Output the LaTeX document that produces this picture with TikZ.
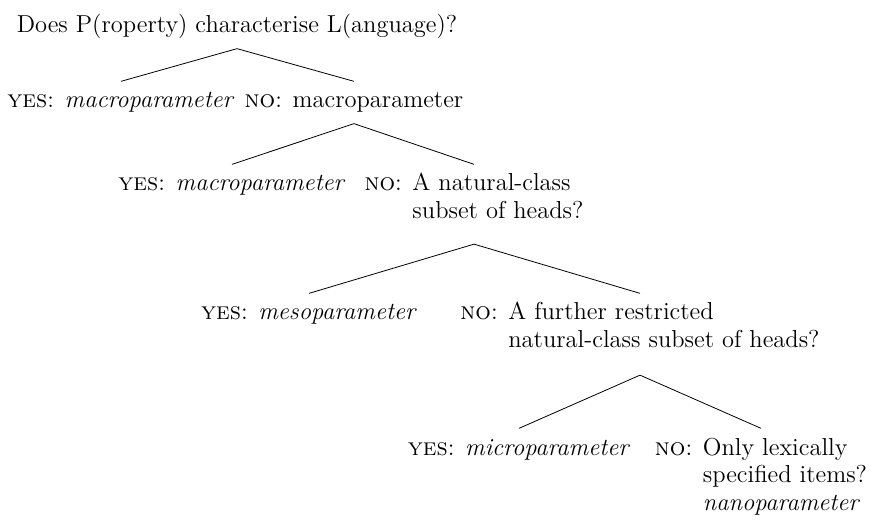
\documentclass[tikz,border=0pt]{standalone}
\newcommand{\yesans}[1]{\strut\textsc{yes}: \textit{#1}}
\newcommand{\noans}[1]{\textsc{no}: \begin{tabular}[t]{@{}l@{}}#1\end{tabular}}
\begin{document}
\begin{tikzpicture}[
                        x=0.5pt, y=-0.5pt,
                        every node/.style={font=\fontsize{12.25}{13.75}\selectfont, inner sep=3.5pt, anchor=base}
                    ]
                    \useasboundingbox (0,0) rectangle (872,523);
                    % Nodes
                    \node (root) at (237,33) {\strut Does P(roperty) characterise L(anguage)?};
                    \node (yes1) at (121,108) {\yesans{macroparameter}};
                    \node (no1) at (354,108) {\noans{macroparameter}};
                    \node (yes2) at (232,191) {\yesans{macroparameter}};
                    \node (no2) at (474,191) {\noans{A natural-class\\ subset of heads?}};
                    \node (yes3) at (309,320) {\yesans{mesoparameter}};
                    \node (no3) at (640,320) {\noans{A further restricted\\ natural-class subset of heads?}};
                    \node (yes4) at (519,455) {\yesans{microparameter}};
                    \node (no4) at (761,455) {\noans{Only lexically\\ specified items?\\ \textit{nanoparameter}}};

                    % Branches
                    \draw (root.south) -- (yes1.north);
                    \draw (root.south) -- (no1.north);
                    \draw (no1.south) -- (yes2.north);
                    \draw (no1.south) -- (no2.north);
                    \draw ([yshift=-5pt]no2.south) -- (yes3.north);
                    \draw ([yshift=-5pt]no2.south) -- (no3.north);
                    \draw ([yshift=-6pt]no3.south) -- (yes4.north);
                    \draw ([yshift=-6pt]no3.south) -- (no4.north);
                \end{tikzpicture}
\end{document}
